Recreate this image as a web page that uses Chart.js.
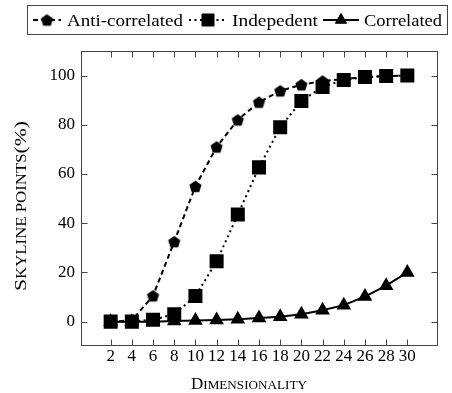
<!DOCTYPE html>
<html>
<head>
<meta charset="utf-8">
<script src="https://cdn.jsdelivr.net/npm/chart.js@4.4.1/dist/chart.umd.min.js"></script>
<style>
  html, body { margin: 0; padding: 0; background: #fff; }
  #wrap { width: 452px; height: 393px; position: relative; }
</style>
</head>
<body>
<div id="wrap"><canvas id="mycanvas" width="452" height="393"></canvas></div>
<script>
var dims = [2, 4, 6, 8, 10, 12, 14, 16, 18, 20, 22, 24, 26, 28, 30];
var antiCorrelated = [0, 0.5, 10.5, 32.5, 55, 71, 82, 89.2, 93.8, 96.3, 97.8, 98.6, 99.4, 99.8, 100];
var independent = [0, 0, 0.8, 3, 10.4, 24.5, 43.5, 62.7, 79, 89.7, 95.4, 98.2, 99.4, 99.8, 100];
var correlated = [0, 0, 0, 0.3, 0.5, 0.7, 1, 1.5, 2, 3, 4.6, 6.7, 10.2, 14.6, 20];
var xTicks = [2, 4, 6, 8, 10, 12, 14, 16, 18, 20, 22, 24, 26, 28, 30];
var yTicks = [0, 20, 40, 60, 80, 100];
var seriesNames = ['Anti-correlated', 'Indepedent', 'Correlated'];

var FONT = '"Liberation Serif", "Times New Roman", serif';

function makePentagon(r) {
	var c = document.createElement('canvas');
	var s = Math.ceil(r * 2 + 2);
	c.width = s; c.height = s;
	var g = c.getContext('2d');
	g.fillStyle = '#000';
	g.beginPath();
	for (var i = 0; i < 5; i++) {
		var a = -Math.PI / 2 + i * 2 * Math.PI / 5;
		var px = s / 2 + r * Math.cos(a), py = s / 2 + 0.6 + r * Math.sin(a);
		if (i === 0) g.moveTo(px, py); else g.lineTo(px, py);
	}
	g.closePath();
	g.fill();
	return c;
}
var pentagon = makePentagon(6.4);

function toPoints(vals) {
	var out = [];
	for (var i in vals) out.push({x: dims[i], y: vals[i]});
	return out;
}

// small caps text, stretched to a target width, centred on x
function drawSmallCaps(ctx, parts, big, small, x, y, target) {
	var w = 0;
	parts.forEach(function(p) {
		ctx.font = (p[1] ? small : big) + 'px ' + FONT;
		w += ctx.measureText(p[0]).width;
	});
	var sx = target ? target / w : 1;
	ctx.save();
	ctx.translate(x - w * sx / 2, y);
	ctx.scale(sx, 1);
	ctx.textAlign = 'left';
	ctx.textBaseline = 'alphabetic';
	var cx = 0;
	parts.forEach(function(p) {
		ctx.font = (p[1] ? small : big) + 'px ' + FONT;
		ctx.fillText(p[0], cx, 0);
		cx += ctx.measureText(p[0]).width;
	});
	ctx.restore();
}

function drawStretched(ctx, text, x, y, target) {
	var w = ctx.measureText(text).width;
	ctx.save();
	ctx.translate(x, y);
	ctx.scale(target / w, 1);
	ctx.fillText(text, 0, 0);
	ctx.restore();
}

var frame = {
	id: 'frame',
	afterDraw: function(chart) {
		var ctx = chart.ctx, a = chart.chartArea;
		var xs = chart.scales.x, ys = chart.scales.y;
		ctx.save();
		ctx.strokeStyle = '#444';
		ctx.lineWidth = 1;
		var L = Math.round(a.left) + 0.5, R = Math.round(a.right) + 0.5;
		var T = Math.round(a.top) + 0.5, B = Math.round(a.bottom) + 0.5;
		ctx.strokeRect(L, T, R - L, B - T);
		var tl = 6;
		ctx.beginPath();
		xTicks.forEach(function(v) {
			var px = Math.round(xs.getPixelForValue(v)) + 0.5;
			ctx.moveTo(px, B); ctx.lineTo(px, B - tl);
			ctx.moveTo(px, T); ctx.lineTo(px, T + tl);
		});
		yTicks.forEach(function(v) {
			var py = Math.round(ys.getPixelForValue(v)) + 0.5;
			ctx.moveTo(L, py); ctx.lineTo(L + tl, py);
			ctx.moveTo(R, py); ctx.lineTo(R - tl, py);
		});
		ctx.stroke();

		// axis titles
		ctx.fillStyle = '#000';
		drawSmallCaps(ctx, [['D', 0], ['IMENSIONALITY', 1]], 17, 13.2, 249, 389, 116);
		ctx.save();
		ctx.translate(26, 206);
		ctx.rotate(-Math.PI / 2);
		drawSmallCaps(ctx, [['S', 0], ['KYLINE POINTS', 1], ['(%)', 0]], 17.5, 13.6, 0, 0, 170);
		ctx.restore();

		// legend
		ctx.strokeStyle = '#444';
		ctx.strokeRect(27.5, 5.5, 420, 29);
		var entries = [
			{x0: 33, x1: 61, text: 67, tw: 116, dash: [5, 3.5], style: pentagon, r: 6},
			{x0: 189, x1: 227, text: 232, tw: 86, dash: [2, 3.5], style: 'rect', r: 8.5},
			{x0: 323, x1: 359, text: 364, tw: 78, dash: [], style: 'triangle', r: 6.5}
		];
		entries.forEach(function(e, i) {
			ctx.save();
			ctx.strokeStyle = '#000';
			ctx.lineWidth = 2;
			ctx.setLineDash(e.dash);
			ctx.beginPath();
			ctx.moveTo(e.x0, 20); ctx.lineTo(e.x1, 20);
			ctx.stroke();
			ctx.restore();
			ctx.fillStyle = '#000';
			ctx.strokeStyle = '#000';
			ctx.lineWidth = 1;
			Chart.helpers.drawPoint(ctx, {pointStyle: e.style, radius: e.r, borderWidth: 1, rotation: 0}, (e.x0 + e.x1) / 2, 20);
			ctx.font = '17px ' + FONT;
			ctx.textAlign = 'left';
			ctx.textBaseline = 'alphabetic';
			drawStretched(ctx, seriesNames[i], e.text, 26, e.tw);
		});
		ctx.restore();
	}
};

var ctx = document.getElementById('mycanvas');

var chart = new Chart(ctx, {
	type: 'line',
	data: {
		datasets: [
			{
				label: seriesNames[0],
				data: toPoints(antiCorrelated),
				borderColor: '#000',
				backgroundColor: '#000',
				borderWidth: 2,
				borderDash: [5, 3.5],
				pointStyle: pentagon,
				pointRadius: 6,
				order: 3
			},
			{
				label: seriesNames[1],
				data: toPoints(independent),
				borderColor: '#000',
				backgroundColor: '#000',
				borderWidth: 2,
				borderDash: [2, 3.5],
				pointStyle: 'rect',
				pointRadius: 8.5,
				order: 1
			},
			{
				label: seriesNames[2],
				data: toPoints(correlated),
				borderColor: '#000',
				backgroundColor: '#000',
				borderWidth: 2,
				pointStyle: 'triangle',
				pointRadius: 6.5,
				order: 2
			}
		]
	},
	options: {
		responsive: false,
		animation: false,
		events: [],
		layout: { padding: { left: 0, top: 51, right: 15, bottom: 0 } },
		plugins: { legend: { display: false }, tooltip: { enabled: false } },
		elements: { line: { tension: 0 }, point: { borderWidth: 1, borderColor: '#000' } },
		scales: {
			x: {
				type: 'linear',
				min: -0.8,
				max: 32.8,
				grid: { display: false, drawTicks: false },
				border: { display: false },
				afterBuildTicks: function(scale) { scale.ticks = xTicks.map(function(v) { return {value: v}; }); },
				afterFit: function(scale) { scale.height = 48; },
				ticks: { color: '#000', padding: 1, maxRotation: 0, autoSkip: false, font: { family: FONT, size: 17 } }
			},
			y: {
				type: 'linear',
				min: -9.5,
				max: 110,
				grid: { display: false, drawTicks: false },
				border: { display: false },
				afterBuildTicks: function(scale) { scale.ticks = yTicks.map(function(v) { return {value: v}; }); },
				afterFit: function(scale) { scale.width = 81; },
				ticks: { color: '#000', padding: 6, font: { family: FONT, size: 17 } }
			}
		}
	},
	plugins: [frame]
});
</script>
</body>
</html>
